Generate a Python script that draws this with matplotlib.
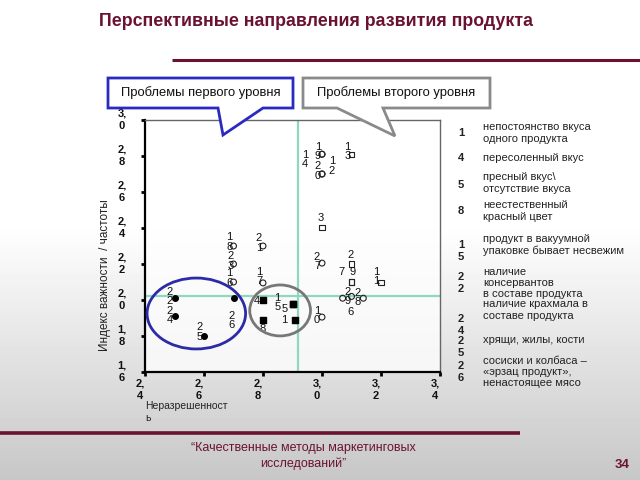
import matplotlib
matplotlib.use('Agg')
import matplotlib.pyplot as plt
import numpy as np
from matplotlib.patches import Ellipse, Polygon

plt.rcParams['font.family'] = ['Liberation Sans', 'DejaVu Sans']

# ---------------- data ----------------
fc_ids = [22, 24, 25, 26]                      # filled circles (first level)
fc_x = [2.50, 2.50, 2.60, 2.70]
fc_y = [2.01, 1.91, 1.80, 2.01]

fs_ids = [4, 15, 5, 8, 1]                      # filled squares (second level)
fs_x = [2.80, 2.90, 2.90, 2.80, 2.91]
fs_y = [2.00, 1.98, 1.98, 1.89, 1.89]

oc_ids = [18, 23, 16, 21, 17, 19, 14, 20, 12, 27, 29, 6, 28, 10]   # open circles
oc_x = [2.70, 2.70, 2.70, 2.80, 2.80, 3.00, 3.00, 3.00, 3.00, 3.00, 3.07, 3.10, 3.14, 3.00]
oc_y = [2.30, 2.20, 2.10, 2.30, 2.095, 2.81, 2.81, 2.70, 2.70, 2.205, 2.01, 2.02, 2.01, 1.905]

os_ids = [13, 3, 2, 9, 7, 11]                  # open squares
os_x = [3.10, 3.00, 3.10, 3.10, 3.10, 3.20]
os_y = [2.81, 2.405, 2.20, 2.10, 2.10, 2.095]

x_ticks = [2.4, 2.6, 2.8, 3.0, 3.2, 3.4]
y_ticks = [1.6, 1.8, 2.0, 2.2, 2.4, 2.6, 2.8, 3.0]
mean_x = 2.92
mean_y = 2.02

legend_ids = [1, 4, 5, 8, 15, 22, 24, 25, 26]
legend_texts = [
    "непостоянство вкуса\nодного продукта",
    "пересоленный вкус",
    "пресный вкус\\\nотсутствие вкуса",
    "неестественный\nкрасный цвет",
    "продукт в вакуумной\nупаковке бывает несвежим",
    "наличие\nконсервантов\nв составе продукта",
    "наличие крахмала в\nсоставе продукта",
    "хрящи, жилы, кости",
    "сосиски и колбаса –\n«эрзац продукт»,\nненастоящее мясо",
]

title = "Перспективные направления развития продукта"
box1_text = "Проблемы первого уровня"
box2_text = "Проблемы второго уровня"
x_label = "Неразрешенност\nь"
y_label = "Индекс важности  / частоты"
footer = "“Качественные методы маркетинговых\nисследований”"
page_no = "34"

# ---------------- styling (label offsets in pixels: dx right, dy down) ----------------
label_off = {
    22: (-5, -2), 24: (-5, -1), 25: (-4, -4), 26: (-2, 22),
    4: (-6, 1), 15: (-15, -1), 5: (-8, 5), 8: (0, 9), 1: (-11, 0),
    18: (-4, -4), 23: (-3, -3), 16: (-4, -4), 21: (-4, -3), 17: (-4, -6),
    19: (-4, -3), 14: (-17, 5), 20: (-4, -3), 12: (10, -8),
    13: (-4, -3), 3: (-1, -9), 27: (-5, -2), 2: (-1, -9), 9: (1, -10),
    7: (-10, -10), 11: (-5, -6), 29: (5, -2), 28: (-6, -1), 6: (-1, 16), 10: (-5, -2),
}
MAROON = '#6b1232'

W, H = 640, 480
fig = plt.figure(figsize=(6.4, 4.8), dpi=100)

# background gradient (stand-in for faded photo)
bg = fig.add_axes([0, 0, 1, 1], zorder=-5)
yy = np.linspace(0, 1, 480)
vals = np.where(yy < 0.47, 1.0, 1.0 - (yy - 0.47) / 0.53 * 0.22)
grad = np.tile(vals[:, None], (1, 10))
bg.imshow(grad, cmap='gray', vmin=0, vmax=1, aspect='auto', extent=[0, W, H, 0])
bg.set_xlim(0, W); bg.set_ylim(H, 0); bg.axis('off')

# main axes
ax = fig.add_axes([145 / W, 1 - 372 / H, 295 / W, 252 / H], zorder=1)
ax.set_xlim(2.4, 3.4)
ax.set_ylim(1.6, 3.0)
ax.patch.set_facecolor('white')
ax.patch.set_alpha(0.75)

ax.axvline(mean_x, color='#8fd8c0', lw=1.6, zorder=1)
ax.axhline(mean_y, color='#8fd8c0', lw=1.6, zorder=1)

ms = 16
ax.scatter(fc_x, fc_y, s=ms, marker='o', c='black', zorder=3)
ax.scatter(fs_x, fs_y, s=ms + 4, marker='s', c='black', zorder=3)
ax.scatter(oc_x, oc_y, s=ms + 2, marker='o', facecolors='none', edgecolors='#222222', linewidths=0.8, zorder=3)
ax.scatter(os_x, os_y, s=ms - 3, marker='s', facecolors='none', edgecolors='#222222', linewidths=0.8, zorder=3)

def put_labels(ids, xs, ys):
    for i, x, y in zip(ids, xs, ys):
        dx, dy = label_off.get(i, (-4, -3))
        s = str(i)
        txt = s if len(s) == 1 else s[0] + "\n" + s[1]
        ax.annotate(txt, xy=(x, y), xytext=(dx, -dy), textcoords='offset pixels',
                    ha='center', va='center', fontsize=8, linespacing=0.9,
                    color='#111111', zorder=4)

put_labels(fc_ids, fc_x, fc_y)
put_labels(fs_ids, fs_x, fs_y)
put_labels(oc_ids, oc_x, oc_y)
put_labels(os_ids, os_x, os_y)

ax.add_patch(Ellipse((2.574, 1.925), 0.334, 0.394, fill=False, edgecolor='#2b2ba8', lw=2, zorder=5))
ax.add_patch(Ellipse((2.858, 1.942), 0.206, 0.283, fill=False, edgecolor='#777777', lw=2, zorder=5))

for side in ['top', 'right']:
    ax.spines[side].set_color('#666666')
    ax.spines[side].set_linewidth(1.0)
for side in ['left', 'bottom']:
    ax.spines[side].set_color('black')
    ax.spines[side].set_linewidth(1.6)

ax.set_xticks(x_ticks)
ax.set_yticks(y_ticks)
ax.tick_params(axis='both', direction='out', length=3, width=2, color='black',
               labelbottom=False, labelleft=False)

def fmt(v):
    a, b = f"{v:.1f}".split('.')
    return a + ",\n" + b

for v in x_ticks:
    ax.annotate(fmt(v), xy=(v, 0), xycoords=('data', 'axes fraction'),
                xytext=(-5, -18), textcoords='offset pixels', ha='center', va='center',
                fontsize=8, fontweight='bold', linespacing=1.35, color='#111111')
for v in y_ticks:
    ax.annotate(fmt(v), xy=(0, v), xycoords=('axes fraction', 'data'),
                xytext=(-23, 0), textcoords='offset pixels', ha='center', va='center',
                fontsize=8, fontweight='bold', linespacing=1.35, color='#111111')

# overlay for slide decorations
ov = fig.add_axes([0, 0, 1, 1], zorder=10)
ov.set_xlim(0, W); ov.set_ylim(H, 0); ov.axis('off')
ov.patch.set_alpha(0)

ov.text(99, 22, title, ha='left', va='center', fontsize=12.8, fontweight='bold', color=MAROON)
ov.plot([172, 640], [60, 60], color=MAROON, lw=2.2, solid_capstyle='butt')
ov.plot([0, 520], [433, 433], color=MAROON, lw=2.6, solid_capstyle='butt')

poly1 = [(108, 78), (293, 78), (293, 108), (263, 108), (223, 135), (218, 108), (108, 108)]
poly2 = [(303, 78), (490, 78), (490, 108), (383, 108), (395, 136), (337, 108), (303, 108)]
ov.add_patch(Polygon(poly1, closed=True, facecolor='white', edgecolor='#2a2ac0', lw=2))
ov.add_patch(Polygon(poly2, closed=True, facecolor='white', edgecolor='#8a8a8a', lw=2))
ov.text(200.5, 93, box1_text, ha='center', va='center', fontsize=9.4, color='#111111')
ov.text(396.5, 93, box2_text, ha='center', va='center', fontsize=9.4, color='#111111')

ov.text(105, 275, y_label, rotation=90, ha='center', va='center', fontsize=8.5, color='#222222')
ov.text(145, 412, x_label, ha='left', va='center', fontsize=7.5, linespacing=1.3, color='#222222')

num_y = [133, 158, 185, 211, 251, 283, 325, 347, 372]
txt_y = [133, 158, 183, 211, 245, 283, 310, 340, 372]
for i, t, ny, ty in zip(legend_ids, legend_texts, num_y, txt_y):
    s = str(i)
    nt = s if len(s) == 1 else s[0] + "\n" + s[1]
    ov.text(461, ny, nt, ha='center', va='center', fontsize=8, fontweight='bold',
            linespacing=1.2, color='#222222')
    ov.text(483, ty, t, ha='left', va='center', fontsize=8, linespacing=1.15, color='#222222')

ov.text(303, 456, footer, ha='center', va='center', fontsize=9, linespacing=1.3, color=MAROON)
ov.text(622, 465, page_no, ha='center', va='center', fontsize=9.5, fontweight='bold', color=MAROON)

fig.savefig('out.png', dpi=100)
